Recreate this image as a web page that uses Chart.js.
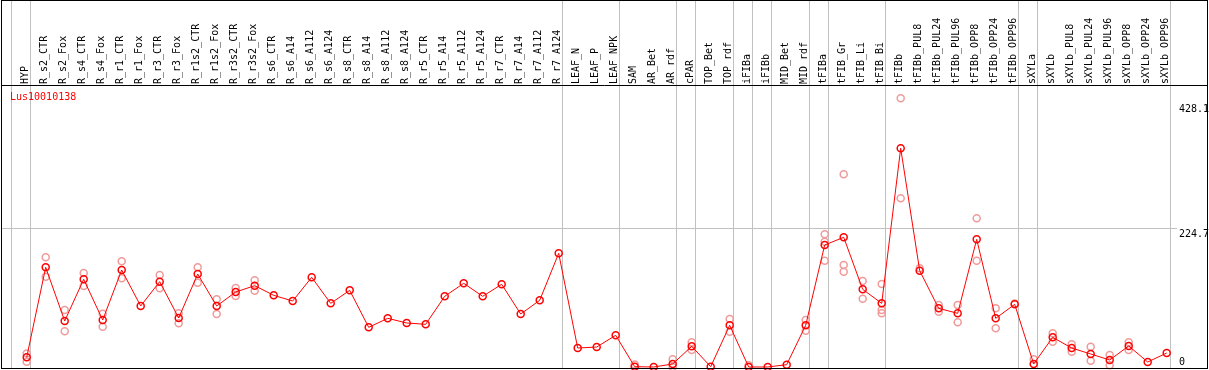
<!DOCTYPE html>
<html><head><meta charset="utf-8">
<script src="https://cdn.jsdelivr.net/npm/chart.js@4.4.1/dist/chart.umd.min.js"></script>
<style>html,body{margin:0;padding:0;background:#fff;overflow:hidden}#wrap{width:1209px;height:370px;position:relative}</style>
</head><body><div id="wrap"><canvas id="c" width="1209" height="370"></canvas></div>
<script>
const geneName = 'Lus10010138';
const categories = ['HYP','R_s2_CTR','R_s2_Fox','R_s4_CTR','R_s4_Fox','R_r1_CTR','R_r1_Fox','R_r3_CTR','R_r3_Fox','R_r1s2_CTR','R_r1s2_Fox','R_r3s2_CTR','R_r3s2_Fox','R_s6_CTR','R_s6_A14','R_s6_A112','R_s6_A124','R_s8_CTR','R_s8_A14','R_s8_A112','R_s8_A124','R_r5_CTR','R_r5_A14','R_r5_A112','R_r5_A124','R_r7_CTR','R_r7_A14','R_r7_A112','R_r7_A124','LEAF_N','LEAF_P','LEAF_NPK','SAM','AR_Bet','AR_rdf','cPAR','TOP_Bet','TOP_rdf','iFIBa','iFIBb','MID_Bet','MID_rdf','tFIBa','tFIB_Gr','tFIB_Li','tFIB_Bi','tFIBb','tFIBb_PUL8','tFIBb_PUL24','tFIBb_PUL96','tFIBb_OPP8','tFIBb_OPP24','tFIBb_OPP96','sXYLa','sXYLb','sXYLb_PUL8','sXYLb_PUL24','sXYLb_PUL96','sXYLb_OPP8','sXYLb_OPP24','sXYLb_OPP96'];
const meanValues = [15.7,161.6,74.6,142.2,76.2,157.3,98.9,138.4,79.5,150.8,98.9,121.6,131.9,116.2,107,145.4,103.2,124.3,64.3,78.9,71.4,69.2,114.6,135.7,114.6,134.1,85.9,108.1,184.3,30.8,32.4,51.4,0.5,0,4.9,33.5,0.5,67.6,0,0,3.8,67.6,197.8,210.3,125.9,103.2,354.6,156.2,95.1,87,207,78.9,101.6,4.9,48.1,30.8,21.1,11.4,34.1,8.1,22.7];
const replicateA = [22,177.8,92.4,152.4,86.5,171.4,null,149.2,87,161.6,109.7,128.1,140.5,null,null,null,null,null,null,null,null,null,null,null,null,null,null,null,null,null,null,null,4,null,12.4,40,null,77.8,3,null,null,76.2,215.1,312.4,139.5,134.6,435.7,160,100.5,100.5,241.1,95.1,103,12.4,54.6,36.8,33,19.5,40,null,null];
const replicateB = [8.6,146.5,57.8,131.4,65.4,143.8,null,127.6,70.8,136.8,85.9,115.1,123.8,null,null,null,null,null,null,null,null,null,null,null,null,null,null,null,null,null,null,null,null,null,0,27.6,null,57.3,null,null,null,58.9,172.4,154.6,110.8,87,273.5,null,89.7,72.4,172.4,62.7,null,null,41,24.9,10.3,2.7,27.6,null,null];
const replicateC = [null,null,null,null,null,null,null,null,null,null,null,null,null,null,null,null,null,null,null,null,null,null,null,null,null,null,null,null,null,null,null,null,null,null,null,null,null,null,null,null,null,null,203.2,165.4,null,92.4,null,null,null,null,null,null,null,null,null,null,null,null,null,null,null];
const yTickValues = [0, 224.7, 428.1];
const yGridValues = [224.7];
const separatorsAfter = [-1,0,28,31,34,35,37,38,39,41,42,45,52,53,60];

const FONT = '"DejaVu Sans Mono", "Liberation Mono", monospace';
const meanData = meanValues.map((v, i) => ({x: i, y: v}));
const repData = [];
[replicateA, replicateB, replicateC].forEach(arr => arr.forEach((v, i) => { if (v !== null) repData.push({x: i, y: v}); }));

const framePlugin = {
  id: 'frame',
  beforeDatasetsDraw(chart) {
    const ctx = chart.ctx, xs = chart.scales.x, ys = chart.scales.y;
    ctx.save();
    ctx.strokeStyle = '#c0c0c0';
    ctx.lineWidth = 1;
    separatorsAfter.forEach(s => {
      const x = Math.round(xs.getPixelForValue(s + 0.19)) + 0.5;
      ctx.beginPath(); ctx.moveTo(x, 0); ctx.lineTo(x, 369); ctx.stroke();
    });
    yGridValues.forEach(v => {
      const y = Math.round(ys.getPixelForValue(v)) + 0.5;
      ctx.beginPath(); ctx.moveTo(1, y); ctx.lineTo(1177, y); ctx.stroke();
    });
    ctx.restore();
  },
  afterDraw(chart) {
    const ctx = chart.ctx, ys = chart.scales.y;
    ctx.save();
    ctx.strokeStyle = '#000';
    ctx.lineWidth = 1;
    ctx.strokeRect(1.5, 0.5, 1206, 368);
    ctx.beginPath(); ctx.moveTo(1, 85.5); ctx.lineTo(1208, 85.5); ctx.stroke();
    ctx.font = '10px ' + FONT;
    ctx.fillStyle = '#000';
    ctx.textAlign = 'left';
    const minV = Math.min(...yTickValues);
    yTickValues.forEach(v => {
      const y = ys.getPixelForValue(v);
      ctx.textBaseline = v === minV ? 'bottom' : 'top';
      ctx.fillText(String(v), 1179, v === minV ? y : y + 1);
    });
    ctx.fillStyle = '#ff0000';
    ctx.textBaseline = 'top';
    ctx.fillText(geneName, 10, 92);
    ctx.restore();
  }
};

new Chart(document.getElementById('c'), {
  type: 'line',
  data: {
    datasets: [
      {
        label: 'mean', data: meanData, borderColor: '#ff0000', borderWidth: 1,
        pointRadius: 3.5, pointBorderWidth: 1.5, pointBorderColor: '#ff0000',
        pointBackgroundColor: 'rgba(0,0,0,0)', pointStyle: 'circle', clip: false, tension: 0
      },
      {
        label: 'replicates', data: repData, showLine: false, borderColor: '#f09a9a',
        pointRadius: 3.5, pointBorderWidth: 1.5, pointBorderColor: '#f09a9a',
        pointBackgroundColor: 'rgba(0,0,0,0)', clip: false
      }
    ]
  },
  options: {
    responsive: false, animation: false, devicePixelRatio: 1,
    layout: {autoPadding: false, padding: {left: 0, right: 0, top: 0, bottom: 1}},
    plugins: {legend: {display: false}, tooltip: {enabled: false}},
    events: [],
    scales: {
      x: {
        type: 'linear', position: 'top', min: -26.7 / 19, max: (1209 - 26.7) / 19,
        grid: {display: false}, border: {display: false},
        afterBuildTicks: s => { s.ticks = categories.map((c, i) => ({value: i})); },
        afterFit: s => { s.height = 85; s.paddingLeft = 0; s.paddingRight = 0; s.paddingTop = 0; s.paddingBottom = 0; },
        ticks: {
          autoSkip: false, minRotation: 90, maxRotation: 90, padding: -7, labelOffset: 11,
          color: '#000', font: {family: FONT, size: 10},
          callback: (v) => categories[v]
        }
      },
      y: {
        display: false, min: -3.24, max: 457.27
      }
    }
  },
  plugins: [framePlugin]
});
</script></body></html>
